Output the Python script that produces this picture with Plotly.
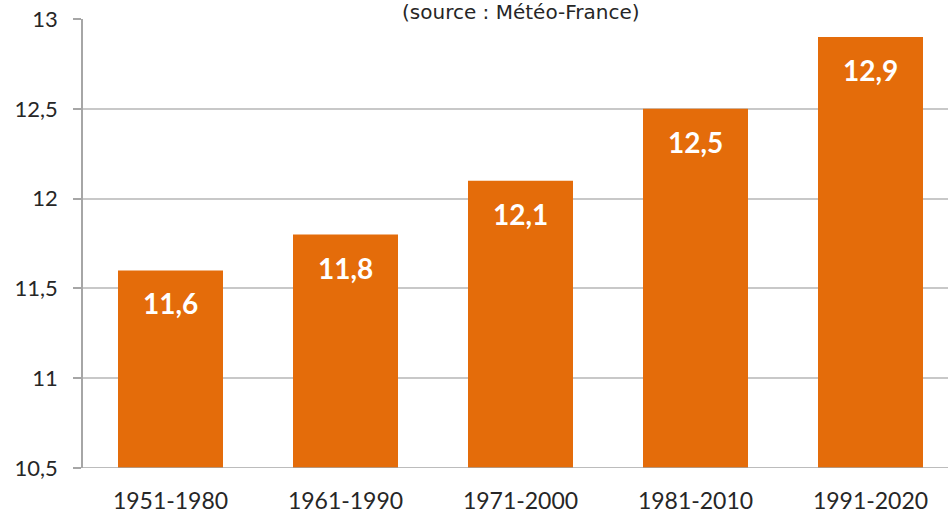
import plotly.graph_objects as go

periods = ["1951-1980", "1961-1990", "1971-2000", "1981-2010", "1991-2020"]
temps = [11.6, 11.8, 12.1, 12.5, 12.9]
labels = ["11,6", "11,8", "12,1", "12,5", "12,9"]
title_text = "(source : Météo-France)"

bar_color = "#E46C0A"
font_family = "Lato, 'Noto Sans', sans-serif"

fig = go.Figure(
    go.Bar(
        x=periods,
        y=temps,
        marker=dict(color=bar_color, line=dict(width=0)),
        width=0.6,
        hoverinfo="skip",
    )
)

annotations = []
for p, v, t in zip(periods, temps, labels):
    annotations.append(dict(
        x=p, y=v, xref="x", yref="y", text=t, showarrow=False,
        yanchor="middle", yshift=-33,
        font=dict(family=font_family, size=28, color="white", weight="bold"),
    ))

annotations.append(dict(
    x=(521 - 83) / 865, y=1 + (19 - 12) / 449, xref="paper", yref="paper", text=title_text,
    showarrow=False, yanchor="middle",
    font=dict(family="'DejaVu Sans', sans-serif", size=20, color="#262626"),
))

fig.update_layout(
    width=948, height=513,
    margin=dict(l=83, r=0, t=19, b=45),
    paper_bgcolor="white", plot_bgcolor="white",
    separators=", ",
    showlegend=False,
    annotations=annotations,
    font=dict(family=font_family, size=22, color="#262626"),
    xaxis=dict(
        range=[-0.5, -0.5 + 865 / 175],
        showgrid=False,
        showline=False,
        ticks="",
        tickfont=dict(size=23),
        ticklabelstandoff=17,
        automargin=False,
    ),
    yaxis=dict(
        range=[10.5, 13],
        dtick=0.5,
        tick0=10.5,
        showgrid=True, gridcolor="#C8C8C8", gridwidth=1.5,
        showline=True, linecolor="#A6A6A6", linewidth=1.5,
        ticks="outside", ticklen=8, tickcolor="#A6A6A6", tickwidth=1.5,
        tickfont=dict(size=22),
        ticklabelstandoff=11,
        zeroline=False,
        automargin=False,
    ),
)

fig.add_shape(type="line", xref="paper", yref="y", x0=0, x1=1, y0=10.5, y1=10.5,
              line=dict(color="#A6A6A6", width=1.5))

fig.write_html(
    "out.html",
    config={"displayModeBar": False},
    post_script="document.body.style.margin='0';document.body.style.overflow='hidden';",
)
